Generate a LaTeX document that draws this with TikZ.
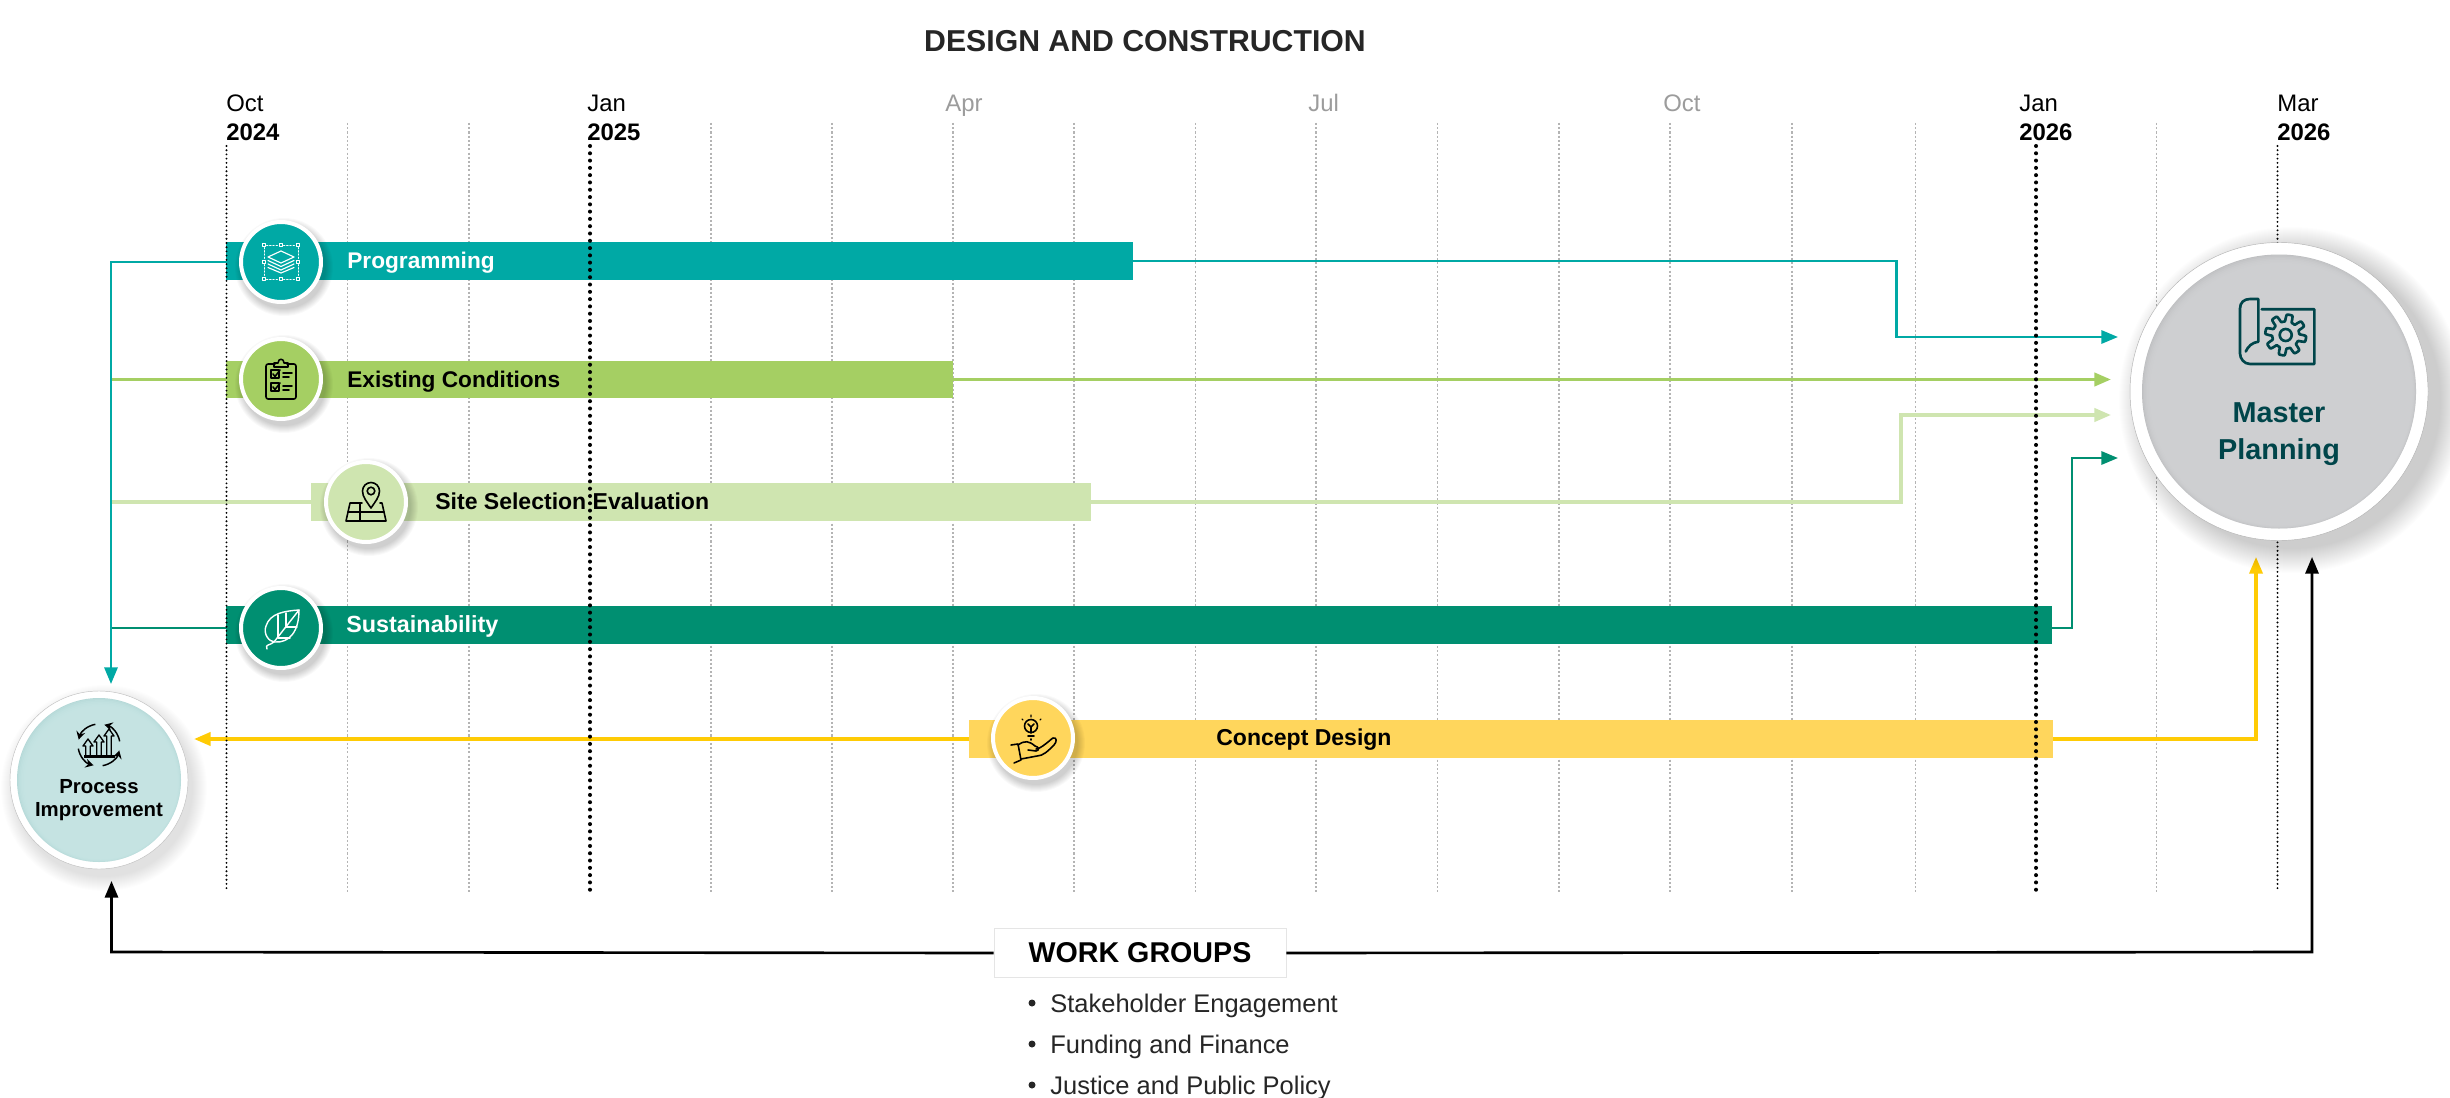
\documentclass[tikz,border=0pt]{standalone}
\usepackage{fontspec}
\setmainfont{Liberation Sans}
\usetikzlibrary{arrows.meta,calc}
\definecolor{cteal}{HTML}{00A9A5}
\definecolor{cgreen}{HTML}{A5CF63}
\definecolor{clight}{HTML}{CFE5B0}
\definecolor{cdark}{HTML}{008F71}
\definecolor{cyell}{HTML}{FFD65C}
\definecolor{clineyell}{HTML}{FFCB05}
\definecolor{cproc}{HTML}{C8E6E5}
\definecolor{cprocd}{HTML}{B4D8D7}
\definecolor{cmast}{HTML}{D1D2D4}
\definecolor{cmastd}{HTML}{BDBEC0}
\definecolor{cnavy}{HTML}{00454A}
\definecolor{cgrid}{HTML}{B4B4B4}
\definecolor{cmonth}{HTML}{9C9C9C}
\newcommand{\softshadow}[5]{% x y r spread opacity
  \foreach \k in {0,1,...,#4}{
    \fill[black,opacity=#5] (#1,#2) circle ({#3+#4-\k});
  }}
\newcommand{\vignette}[6]{% x y r dark light steps
  \fill[#4] (#1,#2) circle (#3);
  \begin{scope}
  \clip (#1,#2) circle (#3);
  \foreach \k in {1,...,#6}{
    \fill[#5,opacity=.3] ({#1+\k*.35},{#2+\k*.45}) circle ({#3+1-\k*1.1});
  }
  \end{scope}}
\newcommand{\uparrowicon}[3]{% x top bottom
  \draw[black,line width=.75pt,line join=round] (#1-2.2,#3) -- (#1-2.2,#2+7) -- (#1-5,#2+7) -- (#1,#2) -- (#1+5,#2+7) -- (#1+2.2,#2+7) -- (#1+2.2,#3);}
\tikzset{
  x=0.02cm,y=-0.02cm,
  gridline/.style={cgrid,line width=.6pt,dash pattern=on 1.2pt off 1.2pt},
  thindots/.style={black,line width=1.2pt,line cap=round,dash pattern=on 0pt off 2.4pt},
  bigdots/.style={black,line width=2.3pt,line cap=round,dash pattern=on 0pt off 4.15pt},
  barbox/.style={anchor=west,inner sep=0pt,outer sep=0pt,fill=#1,minimum height=.76cm},
  disc/.style 2 args={circle,inner sep=0pt,outer sep=0pt,draw=white,fill=#1,line width=.08cm,minimum size=#2},
  barlabel/.style={anchor=west,inner sep=0pt,font=\fontsize{12.9}{15}\selectfont\bfseries,text=black},
  month/.style={anchor=base west,inner sep=0pt,font=\fontsize{13.6}{15}\selectfont},
  year/.style={anchor=base west,inner sep=0pt,font=\fontsize{13.6}{15}\selectfont\bfseries,text=black},
  link/.style n args={2}{#1,line width=#2},
  tipped/.style n args={2}{#1,line width=#2,-{Triangle[length=9.5pt,width=7.5pt]}},
  iconw/.style={white,line width=.65pt,line join=round,line cap=round},
  iconk/.style={black,line width=.9pt,line join=round,line cap=round},
  iconm/.style={cnavy,line width=1.5pt,line join=round,line cap=round},
  listitem/.style={anchor=west,inner sep=0pt,font=\fontsize{14.5}{16}\selectfont,text=black!85},
}
\begin{document}
\begin{tikzpicture}
\useasboundingbox (0,0) rectangle (2450,1098);
\fill[white] (0,0) rectangle (2450,1098);

% title and time axis labels
\node[inner sep=0pt,font=\fontsize{17.2}{19}\selectfont\bfseries,text=black!85] (title) at (1145,41) {DESIGN AND CONSTRUCTION};
\node[month,text=black] (mOct) at (226,112) {Oct};
\node[year] (yOct) at (226,140.5) {2024};
\node[month,text=black] (mJan) at (587,112) {Jan};
\node[year] (yJan) at (587,140.5) {2025};
\node[month,text=cmonth] (mApr) at (945,112) {Apr};
\node[month,text=cmonth] (mJul) at (1308,112) {Jul};
\node[month,text=cmonth] (mOctb) at (1663,112) {Oct};
\node[month,text=black] (mJanb) at (2019,112) {Jan};
\node[year] (yJanb) at (2019,140.5) {2026};
\node[month,text=black] (mMar) at (2277,112) {Mar};
\node[year] (yMar) at (2277,140.5) {2026};

% grey grid
\foreach \gx in {347.5,469,711,832,953,1074,1195.5,1316,1437.5,1559,1670,1792,1915,2156.5}{
  \draw[gridline] (\gx,123) -- (\gx,892);
}
\draw[thindots] (2277.5,146) -- (2277.5,892);

% bars
\node[barbox=cteal,minimum width=907*.02cm] (bProg) at (226,261) {};
\node[barbox=cgreen,minimum width=727*.02cm] (bExist) at (226,379.5) {};
\node[barbox=clight,minimum width=780*.02cm] (bSite) at (311,502) {};
\node[barbox=cdark,minimum width=1826*.02cm] (bSust) at (226,625) {};
\node[barbox=cyell,minimum width=1084*.02cm] (bConc) at (969,739) {};

% waypoints and free ends
\coordinate (procTop) at (111,684);
\coordinate (railTop) at (111,262);
\coordinate (rExist) at (111,379.5);
\coordinate (rSite) at (111,502);
\coordinate (rSust) at (111,628);
\coordinate (wProg) at (1896.5,337);
\coordinate (eProg) at (2118,337);
\coordinate (eExist) at (2111,379.5);
\coordinate (wSite) at (1901,415);
\coordinate (eSite) at (2111,415);
\coordinate (wSust) at (2072,458);
\coordinate (eSust) at (2118,458);
\coordinate (wConc) at (2256,739);
\coordinate (eConc) at (2256,557);
\coordinate (eConcL) at (194,739);
\coordinate (wgL) at (111.5,952);
\coordinate (wgLend) at (111.5,881);
\coordinate (wgR) at (2312,952);
\coordinate (wgRend) at (2312,557);

% left rail
\draw[link={cgreen}{2pt}] (bExist.west) -- (rExist);
\draw[link={clight}{2pt}] (bSite.west) -- (rSite);
\draw[link={cdark}{1.5pt}] (226,628) -- (rSust);
\draw[tipped={cteal}{1.5pt},line join=miter] (bProg.west) ++(0,1) -- (railTop) -- (procTop);

% right side connectors
\draw[tipped={cteal}{1.5pt}] (bProg.east) -| (wProg) -- (eProg);
\draw[tipped={cgreen}{2pt}] (bExist.east) -- (eExist);
\draw[tipped={clight}{2pt}] (bSite.east) -| (wSite) -- (eSite);
\draw[tipped={cdark}{1.5pt}] (bSust.east) ++(0,3) -| (wSust) -- (eSust);
\draw[tipped={clineyell}{1.8pt}] (bConc.east) -| (eConc);
\draw[tipped={clineyell}{2pt}] (bConc.west) -- (eConcL);

% black dotted year marks
\draw[thindots] (226.5,146) -- (226.5,892);
\draw[bigdots] (590,146) -- (590,892);
\draw[bigdots] (2036,146) -- (2036,892);

% work groups
\node[draw=black!10,fill=white,line width=.5pt,minimum width=292*.02cm,minimum height=49*.02cm,inner sep=0pt,font=\fontsize{16.3}{18}\selectfont\bfseries,text=black] (wg) at (1140,953) {WORK GROUPS};
\draw[tipped={black}{1.5pt}] (wg.west) -- (wgL) -- (wgLend);
\draw[tipped={black}{1.5pt}] (wg.east) -- (wgR) -- (wgRend);
\node[listitem] (l1) at (1050,1006) {Stakeholder Engagement};
\node[listitem] (l2) at (1050,1047) {Funding and Finance};
\node[listitem] (l3) at (1050,1088) {Justice and Public Policy};
\node[circle,fill=black!85,inner sep=0pt,minimum size=.14cm] (d1) at (1032,1003) {};
\node[circle,fill=black!85,inner sep=0pt,minimum size=.14cm] (d2) at (1032,1044) {};
\node[circle,fill=black!85,inner sep=0pt,minimum size=.14cm] (d3) at (1032,1085) {};

% small discs
\softshadow{284}{267}{42}{7}{.022}
\softshadow{284}{384}{42}{7}{.022}
\softshadow{369}{507}{42}{7}{.022}
\softshadow{284}{633}{42}{7}{.022}
\softshadow{1036}{743}{42}{7}{.022}
\node[disc={cteal}{1.6cm}] (cProg) at (281,262) {};
\node[disc={cgreen}{1.6cm}] (cExist) at (281,379) {};
\node[disc={clight}{1.6cm}] (cSite) at (366,502) {};
\node[disc={cdark}{1.6cm}] (cSust) at (281,628) {};
\node[disc={cyell}{1.6cm}] (cConc) at (1033,738) {};

% large discs
\softshadow{104}{788}{89}{14}{.009}
\softshadow{2292}{400}{149}{24}{.006}
\fill[white] (99,780) circle (89);
\draw[black!25,line width=.25pt] (99,780) circle (89);
\vignette{99}{780}{82}{cprocd}{cproc}{10}
\fill[white] (2279,391.5) circle (149);
\draw[black!30,line width=.25pt] (2279,391.5) circle (149);
\vignette{2279}{391.5}{137}{cmastd}{cmast}{18}
\coordinate (cProc) at (99,780);
\coordinate (cMast) at (2279,391.5);

% labels
\node[barlabel,text=white] (tProg) at (347,262.5) {Programming};
\node[barlabel] (tExist) at (347,381.5) {Existing Conditions};
\node[barlabel,font=\fontsize{13.1}{15}\selectfont\bfseries] (tSite) at (435,501) {Site Selection Evaluation};
\node[barlabel,text=white,font=\fontsize{13.3}{15}\selectfont\bfseries] (tSust) at (346,626.5) {Sustainability};
\node[barlabel,font=\fontsize{13.1}{15}\selectfont\bfseries] (tConc) at (1216,740) {Concept Design};
\node[inner sep=0pt,align=center,text=black,font=\fontsize{11.6}{13}\selectfont\bfseries] (tProc) at (99,800) {Process\\Improvement};
\node[inner sep=0pt,align=center,text=cnavy,font=\fontsize{16.4}{21}\selectfont\bfseries] (tMast) at (2279,434) {Master\\Planning};

% icon: programming
\begin{scope}[shift={(cProg)}]
  \foreach \ix/\iy in {-17/-17,0/-17,17/-17,-17/0,17/0,-17/17,0/17,17/17}{
    \draw[iconw,line width=.5pt] (\ix-1.8,\iy-1.8) rectangle (\ix+1.8,\iy+1.8);
  }
  \draw[iconw,line width=.5pt,dash pattern=on .8pt off 1pt] (-14.5,-17) -- (-2.5,-17) (2.5,-17) -- (14.5,-17) (-14.5,17) -- (-2.5,17) (2.5,17) -- (14.5,17) (-17,-14.5) -- (-17,-2.5) (-17,2.5) -- (-17,14.5) (17,-14.5) -- (17,-2.5) (17,2.5) -- (17,14.5);
  \draw[iconw] (0,-11) -- (13,-5) -- (0,1) -- (-13,-5) -- cycle;
  \draw[iconw] (-13,-1.5) -- (0,4.5) -- (13,-1.5);
  \draw[iconw] (-13,2) -- (0,8) -- (13,2);
  \draw[iconw] (-13,5.5) -- (0,11) -- (13,5.5);
\end{scope}

% icon: existing conditions
\begin{scope}[shift={(cExist)}]
  \draw[iconk,rounded corners=1.2pt] (-6,-15) -- (-15,-15) -- (-15,20) -- (15,20) -- (15,-15) -- (6,-15);
  \draw[iconk] (-7,-12) -- (-7,-16) -- (-3,-16) .. controls (-3,-21) and (3,-21) .. (3,-16) -- (7,-16) -- (7,-12) -- cycle;
  \draw[iconk] (-10,-9) rectangle (-2,-1);
  \draw[iconk] (-10,4) rectangle (-2,12);
  \draw[iconk] (-8,-5) -- (-6,-2.5) -- (-1,-9);
  \draw[iconk] (-8,8) -- (-6,10.5) -- (-1,4);
  \draw[iconk] (2,-6) -- (11,-6) (2,-2) -- (8,-2) (2,7) -- (11,7) (2,11) -- (8,11);
\end{scope}

% icon: site selection
\begin{scope}[shift={(cSite)}]
  \draw[iconk] (-4,1) -- (-16,1) -- (-20,19) -- (20,19) -- (16,1) -- (14,1);
  \draw[iconk] (-6,1) -- (-6,19) (-18,10) -- (18,10);
  \draw[iconk] (5,6) .. controls (1,0) and (-3.5,-5) .. (-3.5,-11) arc[start angle=180,end angle=360,radius=8.5] .. controls (13.5,-5) and (9,0) .. (5,6) -- cycle;
  \draw[iconk] (5,-11) circle (3.8);
\end{scope}

% icon: sustainability
\begin{scope}[shift={(cSust)}]
  \draw[iconw,line width=.8pt] (18,-18) .. controls (4,-17) and (-11,-15) .. (-15,-2) .. controls (-18,6) and (-12,14) .. (-6,14) .. controls (8,15) and (18,4) .. (18,-18) -- cycle;
  \draw[iconw,line width=.8pt] (18,-18) -- (-7,14) .. controls (-12,18) and (-16,16) .. (-14,21);
  \draw[iconw,line width=.8pt] (5,-1) -- (5,-15) (-3,10) -- (-3,-13) (5,-1) -- (16,-1) (-3,10) -- (9,10) ;
\end{scope}

% icon: concept design
\begin{scope}[shift={(cConc)}]
  \draw[iconk] (-2,-12) circle (6.5);
  \draw[iconk] (-5,-2) -- (1,-2) (-2,1) -- (-2,2);
  \draw[iconk] (-2,-11) -- (-2,-5) (-5,-14) -- (-2,-11) -- (1,-14);
  \draw[iconk,line width=.7pt] (-2,-23) -- (-2,-21) (-11,-19) -- (-10,-18) (8,-19) -- (7,-18);
  \draw[iconk] (-22,7) -- (-15,6) -- (-12,22) -- (-19,25);
  \draw[iconk] (-15,7) .. controls (-8,2) and (-4,3) .. (2,8) .. controls (6,9) and (7,12) .. (3,13) -- (-5,12);
  \draw[iconk] (3,11) .. controls (8,11) and (18,1) .. (20,0) .. controls (24,-1) and (24,4) .. (21,7) .. controls (15,13) and (10,18) .. (4,18) -- (-12,21);
\end{scope}

% icon: process improvement
\begin{scope}[shift={(99,745)}]
  \foreach \sa/\ea in {-10/-75,-100/-165,-190/-255,-280/-345}{
    \draw[black,line width=.85pt,-{Stealth[length=4.5pt,width=5pt]}] (\sa:21) arc[start angle=\sa,end angle=\ea,radius=21];
  }
  \uparrowicon{-11}{-6}{10}
  \uparrowicon{0}{-10}{10}
  \uparrowicon{10}{-16}{10}
  \draw[black,line width=1.5pt] (-15,11.5) -- (16,11.5);
\end{scope}

% icon: master planning
\begin{scope}[shift={(cMast)}]
  \draw[iconm] (-17.3,-82.2) -- (35.3,-82.2) -- (35.3,-27.5) -- (-29,-27.5) .. controls (-35,-27.5) and (-39,-33) .. (-39,-38) -- (-39,-83) .. controls (-39,-89) and (-35,-92.5) .. (-29,-92.5) -- (-20.7,-92.5) -- (-20.7,-49.8) .. controls (-27,-49) and (-31,-45) .. (-33.3,-40);
  \begin{scope}[shift={(6.7,-56.5)}]
    \draw[iconm] plot[domain=0:360,samples=161] ({(17+3.5*max(-1,min(1,2.5*sin(8*\x))))*cos(\x)},{(17+3.5*max(-1,min(1,2.5*sin(8*\x))))*sin(\x)}) -- cycle;
    \draw[iconm] (0,0) circle (6);
  \end{scope}
\end{scope}
\end{tikzpicture}
\end{document}
